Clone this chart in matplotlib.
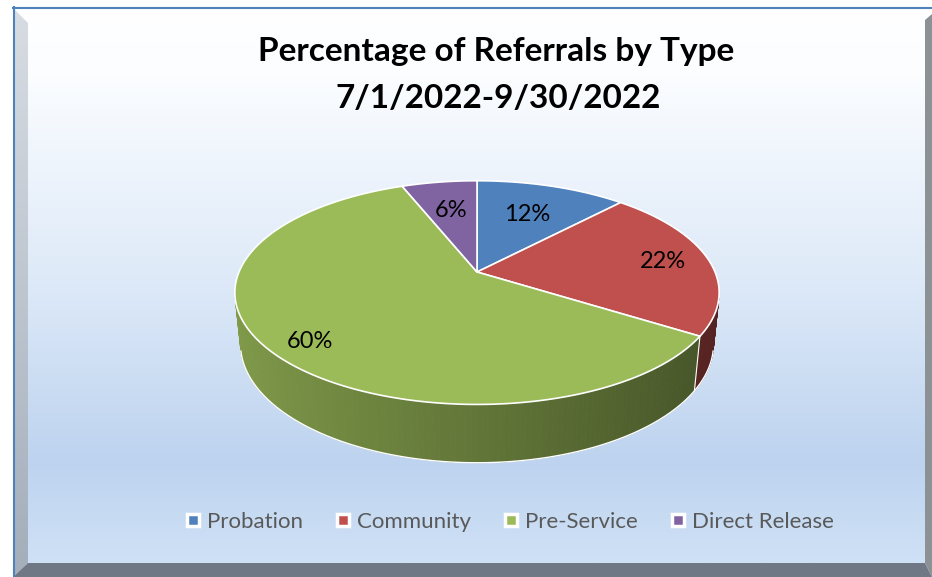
import numpy as np
import matplotlib
matplotlib.use("Agg")
import matplotlib.pyplot as plt
from matplotlib.lines import Line2D
from matplotlib.patches import Polygon
from matplotlib.colors import LinearSegmentedColormap, to_rgb

plt.rcParams["font.family"] = ["Lato", "DejaVu Sans"]

# data
categories = ["Probation", "Community", "Pre-Service", "Direct Release"]
shares = [12, 22, 60, 6]
labels = ["12%", "22%", "60%", "6%"]
colors = ["#4f81bd", "#c0504d", "#9bbb59", "#8064a2"]
title_lines = ["Percentage of Referrals by Type", "7/1/2022-9/30/2022"]

# layout (pixels) and 3d view
W, H = 932, 577
CX, CY = 477, 272          # apex of the pie on screen
FOC, DIST = 1152.0, 4.84   # perspective
PHI = np.radians(27)       # elevation
DEPTH = 0.245              # pie thickness (unit radius)
LABEL_R = [0.63, 0.8, 0.85, 0.65]
LABEL_DT = [0, 0, -3, 0]   # degrees


def project(theta, r=1.0, z=0.0):
    u = r * np.sin(theta)
    v = r * np.cos(theta)
    c, s = np.cos(PHI), np.sin(PHI)
    depth = DIST + v * c - z * s
    x = FOC * u / depth
    y = FOC * (v * s + z * c) / depth
    return CX + x, CY - y


fig = plt.figure(figsize=(W / 100, H / 100), dpi=100)
fig.patch.set_facecolor("white")
ax = fig.add_axes([0, 0, 1, 1])
ax.set_xlim(0, W)
ax.set_ylim(H, 0)
ax.axis("off")

# panel background + bevelled frame
grad = LinearSegmentedColormap.from_list(
    "bg", [(0, "#ffffff"), (0.12, "#fbfdff"), (0.5, "#dde9f8"),
           (0.82, "#bdd3ef"), (1.0, "#cfe1f6")])
ax.imshow(np.linspace(0, 1, 256).reshape(-1, 1), cmap=grad, aspect="auto",
          extent=(28, 925, 563, 8), zorder=0)

left_bevel = Polygon([(13, 8), (28, 23), (28, 563), (13, 577)], closed=True,
                     facecolor="none", edgecolor="none", zorder=1)
ax.add_patch(left_bevel)
bevel_cmap = LinearSegmentedColormap.from_list("bev", ["#d8dde3", "#a3aebb"])
im = ax.imshow(np.linspace(0, 1, 256).reshape(-1, 1), cmap=bevel_cmap,
               aspect="auto", extent=(13, 28, 577, 8), zorder=1)
im.set_clip_path(left_bevel)
ax.add_patch(Polygon([(925, 20), (932, 14), (932, 577), (925, 563)], closed=True,
                     facecolor="#8c9196", edgecolor="none", zorder=1))
ax.add_patch(Polygon([(13, 577), (28, 563), (925, 563), (932, 577)], closed=True,
                     facecolor="#6f7884", edgecolor="none", zorder=1))
ax.plot([13, 932], [7.5, 7.5], color="#4f81bd", lw=1.5, zorder=2)
ax.plot([13.5, 13.5], [7, 577], color="#4f81bd", lw=1.5, zorder=2)

# slice angles, clockwise from 12 o'clock
bounds = np.radians(np.concatenate([[0], np.cumsum(shares)]) / sum(shares) * 360)
v_vis = -1 / (DIST * np.cos(PHI))

# outer walls (visible front part), shaded left to right
for i, col in enumerate(colors):
    t = np.linspace(bounds[i], bounds[i + 1], 200)
    base = np.array(to_rgb(col))
    for a, b in zip(t[:-1], t[1:]):
        if np.cos((a + b) / 2) > v_vis:
            continue
        xa, ya = project(a)
        xb, yb = project(b)
        xc, yc = project(b, z=-DEPTH)
        xd, yd = project(a, z=-DEPTH)
        k = 0.63 - 0.2 * np.sin((a + b) / 2)
        ax.add_patch(Polygon([(xa, ya), (xb, yb), (xc, yc), (xd, yd)],
                             closed=True, facecolor=base * k,
                             edgecolor=base * k, lw=0.6, zorder=3))

# wall outlines
t = np.linspace(0, 2 * np.pi, 720)
front = np.cos(t) < v_vis
bx, by = project(t, z=-DEPTH)
ax.plot(np.where(front, bx, np.nan), by, color="white", lw=1, zorder=4)
for b in bounds:
    if np.cos(b) < v_vis:
        x0, y0 = project(b)
        x1, y1 = project(b, z=-DEPTH)
        ax.plot([x0, x1], [y0, y1], color="white", lw=0.8, zorder=4)

# top faces
for i, col in enumerate(colors):
    t = np.linspace(bounds[i], bounds[i + 1], 200)
    px, py = project(t)
    pts = [(CX, CY)] + list(zip(px, py))
    ax.add_patch(Polygon(pts, closed=True, facecolor=col, edgecolor="white",
                         lw=1.2, joinstyle="round", zorder=5))

# data labels
for i, lab in enumerate(labels):
    mid = (bounds[i] + bounds[i + 1]) / 2 + np.radians(LABEL_DT[i])
    lx, ly = project(mid, r=LABEL_R[i])
    ax.text(lx, ly, lab, ha="center", va="center", fontsize=17,
            color="black", zorder=6)

# title
ax.text(496, 52, title_lines[0], ha="center", va="center", fontsize=24,
        fontweight="bold", color="black", zorder=6)
ax.text(498, 99, title_lines[1], ha="center", va="center", fontsize=24,
        fontweight="bold", color="black", zorder=6)

# legend
handles = [Line2D([], [], marker="s", ls="", markersize=9, markerfacecolor=c,
                  markeredgecolor="white", markeredgewidth=2.5)
           for c in colors]
fig.legend(handles, categories, loc="center", bbox_to_anchor=(509 / W, 1 - 522 / H),
           ncol=4, frameon=False, fontsize=16, handletextpad=0.2,
           columnspacing=1.43, handlelength=0.8, labelcolor="#595959")

fig.savefig("out.png", dpi=100)
